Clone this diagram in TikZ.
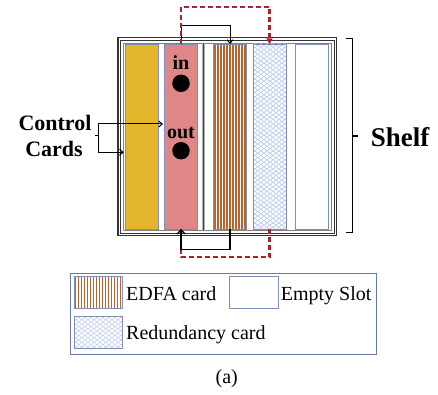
\documentclass[tikz,border=0pt]{standalone}
\usepackage{fontspec}
\setmainfont{Liberation Serif}
\usetikzlibrary{arrows.meta,decorations.pathmorphing}
\definecolor{cyel}{HTML}{E3B62B}
\definecolor{cpink}{HTML}{DF8787}
\definecolor{cbord}{HTML}{7F8FB5}
\definecolor{cbrown}{HTML}{B7652E}
\definecolor{cwave}{HTML}{BFCDEE}
\definecolor{cred}{HTML}{A8232B}
\definecolor{cframe}{HTML}{333333}
\definecolor{clegb}{HTML}{6A7AA8}
\begin{document}
\begin{tikzpicture}[x=1pt,y=-1pt,
  card/.style={minimum width=33pt,minimum height=185pt,inner sep=0pt,outer sep=0pt,draw=cbord,line width=0.9pt},
  swatch/.style={minimum width=48.7pt,minimum height=31.6pt,inner sep=0pt,outer sep=0pt,draw=cbord,line width=0.9pt},
  blk/.style={line width=1pt,-{Straight Barb[length=3.5pt,width=6pt]}},
  reddash/.style={draw=cred,line width=2.2pt,dash pattern=on 5pt off 3pt},
  stripe/.style={cbrown,line width=1.6pt},
  wave/.style={cwave,line width=0.6pt,decorate,decoration={snake,amplitude=1.5pt,segment length=6pt}},
  lbl/.style={font=\fontsize{20}{24}\selectfont,inner sep=0pt},
  blbl/.style={font=\bfseries\fontsize{20}{24}\selectfont,inner sep=0pt}]
\useasboundingbox (0,0) rectangle (438,395);

% shelf frame
\draw[line width=1.4pt,cframe] (118,37.5) rectangle (336.5,235.3);
\draw[line width=0.7pt,cframe] (120.5,40) rectangle (334,233);
\draw[line width=0.6pt,gray] (123.5,43) rectangle (331,230.5);
\draw[line width=3pt,gray!60] (203,43) -- (203,230.5);
\draw[line width=1pt,black!75] (203,43) -- (203,230.5);

% cards
\node[card,fill=cyel] (ctrlA) at (142.25,136.5) {};
\node[card,fill=cpink] (ctrlB) at (181,136.5) {};
\node[card,draw=none,fill=white] (edfa) at (230,136.5) {};
\node[card,draw=none,fill=white] (redund) at (269.5,136.5) {};
\node[card,fill=white] (empty) at (312.25,136.5) {};

\begin{scope}
  \clip (edfa.north west) rectangle (edfa.south east);
  \foreach \i in {0,...,11}
    \draw[stripe] ([xshift=\i*3pt+1.5pt]edfa.north west) -- ([xshift=\i*3pt+1.5pt]edfa.south west);
\end{scope}
\draw[cbord,line width=0.9pt] (edfa.north west) rectangle (edfa.south east);

\begin{scope}
  \clip (redund.north west) rectangle (redund.south east);
  \foreach \k in {0,...,42} {
    \draw[wave] ([xshift=-6pt,yshift=-\k*4.5pt]redund.north west) -- ([xshift=6pt,yshift=-\k*4.5pt]redund.north east);
    \draw[wave] ([xshift=-3pt,yshift=-\k*4.5pt-2.25pt]redund.north west) -- ([xshift=9pt,yshift=-\k*4.5pt-2.25pt]redund.north east);
  }
\end{scope}
\draw[cbord,line width=0.9pt] (redund.north west) rectangle (redund.south east);

% in / out
\node[blbl,anchor=base] (intxt) at (181,70) {in};
\node[circle,fill=black,minimum size=17.5pt,inner sep=0pt] (dotin) at (181,83.3) {};
\node[blbl,anchor=base] (outtxt) at (181,138.3) {out};
\node[circle,fill=black,minimum size=17.5pt,inner sep=0pt] (dotout) at (181,150.7) {};

% connectors
\draw[blk] (ctrlB.north) -- ++(0,-18.3) -| (edfa.north);
\draw[reddash,-{Triangle[length=5.5pt,width=6pt]}] (ctrlB.north) -- ++(0,-37.3) -| (redund.north);
\draw[reddash] (redund.south) -- ++(0,28.3) -| (ctrlB.south);
\draw[line width=1.3pt,-{Straight Barb[length=4pt,width=8pt]}] (edfa.south) -- ++(0,20.3) -| (ctrlB.south);

% control cards label
\node[font=\bfseries\fontsize{22}{27}\selectfont,inner sep=0pt,anchor=base] (cc1) at (55,130.5) {Control};
\node[font=\bfseries\fontsize{22}{27}\selectfont,inner sep=0pt,anchor=base] (cc2) at (54,156.7) {Cards};
\coordinate (ccT) at (98,124);
\coordinate (ccB) at (98,152.3);
\coordinate (ccM) at (95.3,136);
\draw[line width=1pt] (ccT) -- (ccB);
\draw[line width=1pt] (ccM) -- (ccM -| ccT);
\draw[blk,shorten >=1.5pt] (ccT) -- (ccT -| ctrlB.west);
\draw[blk,shorten >=2pt] (ccB) -- (ccB -| ctrlA.west);

% shelf bracket
\coordinate (shT) at (346,38.3);
\coordinate (shB) at (346,232.7);
\coordinate (shM) at (352.7,136);
\draw[line width=1.3pt] (shT) -- (shT -| shM) -- (shB -| shM) -- (shB);
\draw[line width=1.3pt] (shM) -- ++(5.3,0);
\node[font=\bfseries\fontsize{27}{32}\selectfont,inner sep=0pt,anchor=base west] (shelf) at (370.7,146.7) {Shelf};

% legend
\node[draw=clegb,line width=0.8pt,minimum width=306pt,minimum height=80.7pt,inner sep=0pt] (legend) at (223,313.7) {};
\node[swatch,draw=none,fill=white] (legEdfa) at (98.35,292.5) {};
\begin{scope}
  \clip (legEdfa.north west) rectangle (legEdfa.south east);
  \foreach \i in {0,...,16}
    \draw[stripe] ([xshift=\i*3pt+1.5pt]legEdfa.north west) -- ([xshift=\i*3pt+1.5pt]legEdfa.south west);
\end{scope}
\draw[cbord,line width=0.9pt] (legEdfa.north west) rectangle (legEdfa.south east);
\node[swatch,fill=white] (legEmpty) at (253.65,292.5) {};
\node[swatch,draw=none,fill=white] (legRed) at (98.35,332.2) {};
\begin{scope}
  \clip (legRed.north west) rectangle (legRed.south east);
  \foreach \k in {0,...,8} {
    \draw[wave] ([xshift=-6pt,yshift=-\k*4.5pt]legRed.north west) -- ([xshift=6pt,yshift=-\k*4.5pt]legRed.north east);
    \draw[wave] ([xshift=-3pt,yshift=-\k*4.5pt-2.25pt]legRed.north west) -- ([xshift=9pt,yshift=-\k*4.5pt-2.25pt]legRed.north east);
  }
\end{scope}
\draw[cbord,line width=0.9pt] (legRed.north west) rectangle (legRed.south east);
\node[lbl,anchor=base west] (tEdfa) at (126,300) {EDFA card};
\node[lbl,anchor=base west] (tEmpty) at (280.7,300) {Empty Slot};
\node[lbl,anchor=base west] (tRed) at (126,339.5) {Redundancy card};
\node[lbl,anchor=base] (cap) at (226.7,383) {(a)};
\end{tikzpicture}
\end{document}
